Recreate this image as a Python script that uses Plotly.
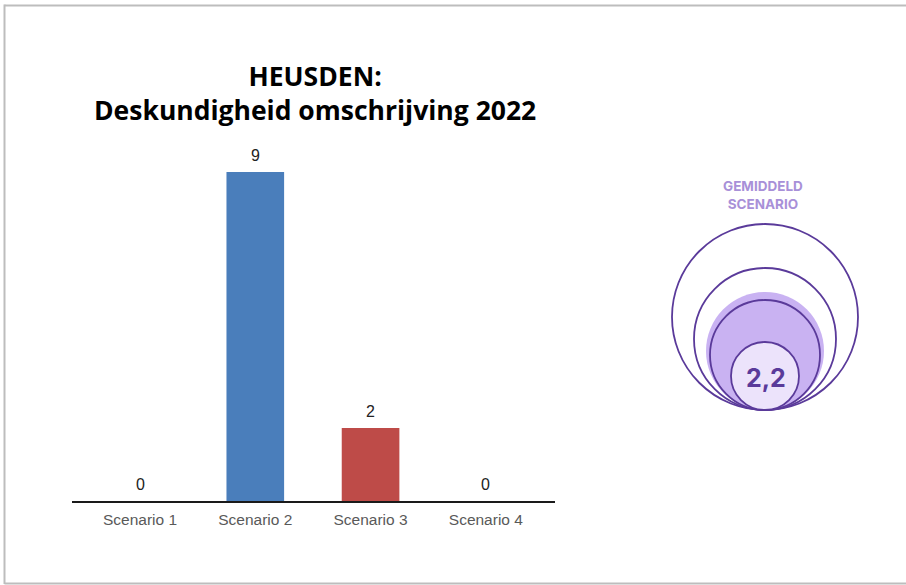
import plotly.graph_objects as go

categories = ["Scenario 1", "Scenario 2", "Scenario 3", "Scenario 4"]
values = [0, 9, 2, 0]
bar_colors = ["#4a7ebb", "#4a7ebb", "#be4b48", "#4a7ebb"]
title_lines = ["HEUSDEN:", "Deskundigheid omschrijving 2022"]
average_label = "GEMIDDELD<br>SCENARIO"
average_value = "2,2"

W, H = 906, 585


def px(x):
    return x / W


def py(y):
    return 1 - y / H


fig = go.Figure()
fig.add_trace(go.Bar(
    x=categories, y=values,
    marker=dict(color=bar_colors, line=dict(width=0)),
    width=0.5,
    hoverinfo="skip",
))

shapes = []
# outer frame (left, top, bottom edges only)
frame = dict(xref="paper", yref="paper", type="line", line=dict(color="#bdbdbd", width=2))
shapes.append(dict(frame, x0=px(4.5), x1=px(4.5), y0=py(4.5), y1=py(584)))
shapes.append(dict(frame, x0=px(4.5), x1=1, y0=py(5.5), y1=py(5.5)))
shapes.append(dict(frame, x0=px(4.5), x1=1, y0=py(583.5), y1=py(583.5)))

cx = 765
bottom = 410
purple = "#5a3a9a"
# circles: (radius, fill, line)
circles = [
    (93, "rgba(0,0,0,0)", purple, 1.8),
    (71, "rgba(0,0,0,0)", purple, 1.8),
    (59, "#c9b2f2", "rgba(0,0,0,0)", 0),
    (55, "rgba(0,0,0,0)", purple, 1.8),
    (34, "#ece3fb", purple, 1.8),
]
for r, fill, lc, lw in circles:
    shapes.append(dict(type="circle", xref="paper", yref="paper",
                       x0=px(cx - r), x1=px(cx + r),
                       y0=py(bottom), y1=py(bottom - 2 * r),
                       fillcolor=fill, line=dict(color=lc, width=lw), layer="above"))

annotations = [
    dict(text="<b>" + title_lines[0] + "</b><br><b>" + title_lines[1] + "</b>",
         xref="paper", yref="paper", x=px(315), y=py(93), xanchor="center", yanchor="middle",
         showarrow=False, font=dict(family="Open Sans", size=26.5, color="#000000")),
    dict(text="<b>" + average_label + "</b>", xref="paper", yref="paper",
         x=px(763), y=py(195), xanchor="center", yanchor="middle", showarrow=False,
         font=dict(family="Inter, Roboto", size=13.5, color="#a890d8")),
    dict(text="<b>" + average_value + "</b>", xref="paper", yref="paper",
         x=px(766), y=py(378), xanchor="center", yanchor="middle", showarrow=False,
         font=dict(family="Inter, Roboto", size=25, color="#5a3a9a")),
]
for c, v in zip(categories, values):
    annotations.append(dict(text=str(v), x=c, y=v, xref="x", yref="y",
                            xanchor="center", yanchor="bottom", yshift=6, showarrow=False,
                            font=dict(family="Liberation Sans, Arial", size=16, color="#222222")))

fig.update_layout(
    width=W, height=H,
    margin=dict(l=0, r=0, t=0, b=0),
    paper_bgcolor="white", plot_bgcolor="white",
    showlegend=False,
    shapes=shapes,
    annotations=annotations,
    xaxis=dict(domain=[px(72), px(555)], range=[-0.59, 3.6],
               showline=True, linecolor="#1a1a1a", linewidth=2,
               ticks="", showgrid=False, zeroline=False, ticklabelstandoff=3,
               tickfont=dict(family="Liberation Sans, Arial", size=15.5, color="#595959")),
    yaxis=dict(domain=[py(501), py(150)], range=[0, 9.6], visible=False,
               showgrid=False, zeroline=False),
)

fig.write_html("out.html", config={"displayModeBar": False},
               post_script="document.body.style.margin='0';document.body.style.padding='0';")
